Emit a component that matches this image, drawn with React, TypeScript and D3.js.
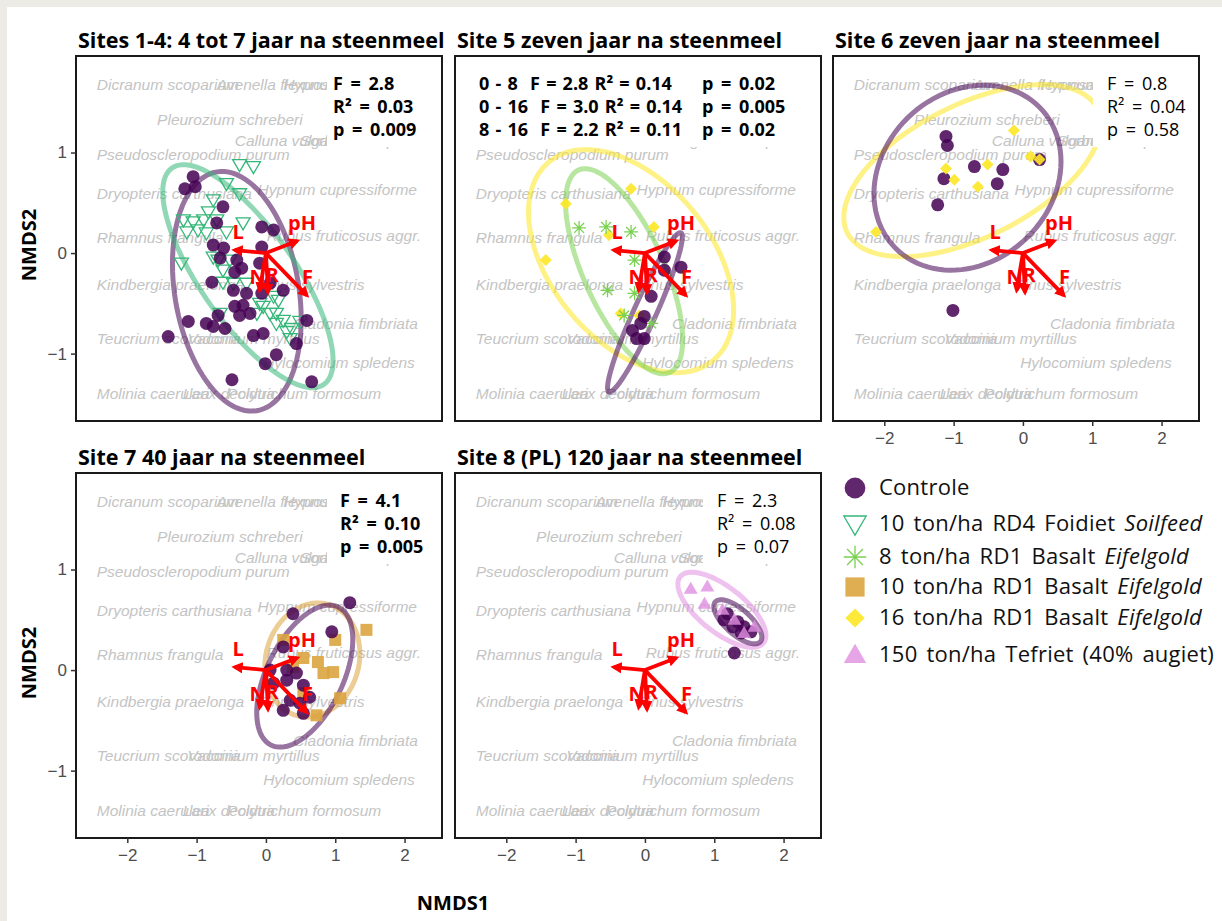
import React, { useEffect, useRef } from 'react';
import * as d3 from 'd3';

// NMDS axes (shared by all panels)
const xDomain = [-2.74, 2.54];
const yDomain = [-1.67, 1.96];
const xTicks = [-2, -1, 0, 1, 2];
const yTicks = [-1, 0, 1];

// species scores (label left edge / vertical centre)
const speciesNames = ['Dicranum scoparium', 'Avenella flexuosa', 'Hypnum jutlandicum', 'Pleurozium schreberi',
  'Calluna vulgaris', 'Sorbus aucuparia', 'Pseudoscleropodium purum', 'Dryopteris carthusiana',
  'Hypnum cupressiforme', 'Rhamnus frangula', 'Rubus fruticosus aggr.', 'Kindbergia praelonga',
  'Pinus sylvestris', 'Cladonia fimbriata', 'Teucrium scorodonia', 'Vaccinium myrtillus',
  'Hylocomium spledens', 'Molinia caerulea', 'Larix decidua', 'Polytrichum formosum'];
const speciesX = [-2.44, -0.71, 0.25, -1.57, -0.45, 0.49, -2.44, -2.44, -0.12, -2.44, 0.01, -2.44, -0.12, 0.39, -2.44, -1.13, -0.04, -2.44, -1.20, -0.56];
const speciesY = [1.68, 1.68, 1.68, 1.33, 1.12, 1.12, 0.98, 0.59, 0.63, 0.15, 0.17, -0.31, -0.31, -0.70, -0.85, -0.85, -1.09, -1.40, -1.40, -1.40];

// environmental vectors (Ellenberg)
const vectorNames = ['L', 'pH', 'F', 'N', 'R'];
const vectorX = [-0.45, 0.45, 0.59, -0.09, 0.03];
const vectorY = [0.03, 0.12, -0.42, -0.37, -0.39];
const vectorLabelX = [-0.40, 0.52, 0.60, -0.12, 0.09];
const vectorLabelY = [0.21, 0.30, -0.24, -0.24, -0.22];

// treatments
const groupKeys = ['controle', 'foidiet', 'basalt8', 'basalt10', 'basalt16', 'tefriet'];
const groupColors = ['#440154', '#35b779', '#7ad151', '#dca43f', '#fde725', '#e08ee0'];
const groupShapes = ['circle', 'triangleDown', 'asterisk', 'square', 'diamond', 'triangleUp'];
const legendLabels = ['Controle', '10 ton/ha RD4 Foidiet ', '8 ton/ha RD1 Basalt ', '10 ton/ha RD1 Basalt ', '16 ton/ha RD1 Basalt ', '150 ton/ha Tefriet (40% augiet)'];
const legendItalic = ['', 'Soilfeed', 'Eifelgold', 'Eifelgold', 'Eifelgold', ''];

// panel texts
const panelTitles = ['Sites 1-4: 4 tot 7 jaar na steenmeel', 'Site 5 zeven jaar na steenmeel', 'Site 6 zeven jaar na steenmeel',
  'Site 7 40 jaar na steenmeel', 'Site 8 (PL) 120 jaar na steenmeel'];
const statsSite14 = ['F = 2.8', 'R² = 0.03', 'p = 0.009'];
const statsSite5 = [['0 - 8  F = 2.8 R² = 0.14', 'p = 0.02'], ['0 - 16  F = 3.0 R² = 0.14', 'p = 0.005'], ['8 - 16  F = 2.2 R² = 0.11', 'p = 0.02']];
const statsSite6 = ['F = 0.8', 'R² = 0.04', 'p = 0.58'];
const statsSite7 = ['F = 4.1', 'R² = 0.10', 'p = 0.005'];
const statsSite8 = ['F = 2.3', 'R² = 0.08', 'p = 0.07'];

// site scores
const site14Controle = [[-1.05, 0.76], [-1.17, 0.64], [-1.02, 0.66], [-0.62, 0.46], [-0.71, 0.30], [-0.06, 0.26], [-0.76, 0.08],
  [-0.61, 0.05], [-0.42, -0.07], [-0.35, -0.15], [-0.45, -0.19], [-0.09, -0.10], [-0.47, -0.37], [-0.28, -0.40], [-0.06, -0.40],
  [0.25, -0.37], [-0.45, -0.53], [-0.33, -0.52], [-0.23, -0.60], [-0.69, -0.62], [-1.12, -0.68], [-0.86, -0.70], [-0.76, -0.73],
  [-1.41, -0.83], [-0.18, -0.82], [-0.04, -0.80], [0.44, -0.90], [0.15, -1.01], [-0.01, -1.10], [0.66, -1.28], [-0.49, -1.26],
  [0.06, -0.30], [-0.66, -0.05], [0.59, -0.67], [0.11, 0.23], [-0.06, 0.06], [-0.78, -0.29], [-0.59, -0.75], [-0.38, -0.62]];
const site14Foidiet = [[-0.38, 0.88], [-0.18, 0.86], [-0.57, 0.69], [-0.38, 0.59], [-0.76, 0.53], [-0.83, 0.41], [-1.19, 0.33],
  [-1.05, 0.31], [-0.90, 0.33], [-0.71, 0.33], [-1.14, 0.21], [-0.98, 0.23], [-0.86, 0.20], [-0.57, 0.21], [-0.33, 0.30],
  [-0.76, -0.04], [-0.69, -0.07], [-0.52, -0.07], [-1.22, -0.10], [-0.62, -0.17], [-0.62, -0.29], [-0.47, -0.30], [-0.28, -0.30],
  [0.11, -0.43], [0.18, -0.47], [-0.04, -0.53], [0.06, -0.60], [0.15, -0.60], [0.25, -0.67], [0.37, -0.75], [0.30, -0.78],
  [0.15, -0.70], [0.35, -0.85], [0.49, -0.68], [-0.66, -0.60], [-0.13, -0.60], [-0.09, -0.50]];
const site5Controle = [[0.28, -0.04], [0.28, -0.17], [0.52, -0.14], [0.09, -0.43], [-0.01, -0.63], [-0.06, -0.70], [-0.18, -0.77], [-0.01, -0.85], [-0.12, -0.85]];
const site5Basalt8 = [[-0.95, 0.25], [-0.56, 0.26], [-0.20, 0.21], [-0.15, -0.07], [-0.54, -0.37], [-0.15, -0.40], [-0.30, -0.62], [0.09, -0.70]];
const site5Basalt16 = [[-0.20, 0.64], [-1.14, 0.49], [-1.43, -0.07], [0.13, 0.26], [-0.52, 0.18], [-0.08, -0.62], [-0.35, -0.60]];
const site6Controle = [[-1.11, 1.16], [-1.09, 1.07], [-0.70, 0.86], [-0.29, 0.83], [-0.37, 0.69], [-1.14, 0.74], [-1.23, 0.48], [0.24, 0.93], [-1.01, -0.57]];
const site6Basalt16 = [[-0.13, 1.22], [-0.51, 0.88], [-0.99, 0.73], [-0.65, 0.66], [-1.11, 0.84], [0.11, 0.96], [0.24, 0.93], [-2.12, 0.21]];
const site7Controle = [[1.21, 0.67], [0.39, 0.56], [0.95, 0.38], [0.25, 0.23], [0.30, 0.00], [0.44, -0.03], [0.54, -0.15], [0.30, -0.10],
  [0.35, -0.30], [0.25, -0.40], [0.54, -0.43], [0.49, -0.33], [0.06, 0.00], [0.11, -0.13], [0.63, -0.27]];
const site7Basalt10 = [[1.45, 0.40], [1.00, 0.30], [0.54, 0.12], [0.75, 0.08], [0.97, -0.02], [1.07, -0.28], [0.39, 0.03], [0.73, -0.45],
  [0.54, -0.23], [0.25, 0.30], [0.83, -0.03]];
const site8Controle = [[1.29, 0.17], [1.19, 0.56], [1.34, 0.48], [1.43, 0.43], [1.27, 0.43], [1.39, 0.37], [1.53, 0.38], [1.14, 0.50]];
const site8Tefriet = [[0.66, 0.81], [0.90, 0.83], [0.86, 0.66], [1.29, 0.50], [1.58, 0.43], [1.43, 0.37], [1.12, 0.60]];

// 95% ellipses: centre and covariance (NMDS units)
const site14Ellipses = [
  { group: 'controle', cx: -0.42, cy: -0.38, sxx: 0.862, syy: 1.42, sxy: -0.254 },
  { group: 'foidiet', cx: -0.26, cy: -0.23, sxx: 1.51, syy: 1.23, sxy: -1.03 }];
const site5Ellipses = [
  { group: 'basalt16', cx: -0.20, cy: -0.08, sxx: 2.19, syy: 1.23, sxy: -0.72 },
  { group: 'basalt8', cx: -0.30, cy: -0.18, sxx: 0.713, syy: 1.04, sxy: -0.574 },
  { group: 'controle', cx: 0.0, cy: -0.59, sxx: 0.291, syy: 0.628, sxy: 0.404 }];
const site6Ellipses = [
  { group: 'basalt16', cx: -0.73, cy: 0.82, sxx: 3.44, syy: 0.732, sxy: 0.861 },
  { group: 'controle', cx: -0.80, cy: 0.75, sxx: 1.82, syy: 0.847, sxy: 0.215 }];
const site7Ellipses = [
  { group: 'basalt10', cx: 0.67, cy: 0.10, sxx: 0.47, syy: 0.322, sxy: 0.043 },
  { group: 'controle', cx: 0.56, cy: -0.06, sxx: 0.48, syy: 0.499, sxy: 0.251 }];
const site8Ellipses = [
  { group: 'tefriet', cx: 1.11, cy: 0.60, sxx: 0.403, syy: 0.139, sxy: -0.162 },
  { group: 'controle', cx: 1.34, cy: 0.48, sxx: 0.12, syy: 0.048, sxy: -0.053 }];

const panels = [
  { title: panelTitles[0], col: 0, row: 0, points: { foidiet: site14Foidiet, controle: site14Controle }, ellipses: site14Ellipses, stats: statsSite14, bold: true, statsX: 257, boxX: 251 },
  { title: panelTitles[1], col: 1, row: 0, points: { basalt16: site5Basalt16, basalt8: site5Basalt8, controle: site5Controle }, ellipses: site5Ellipses, stats: null, bold: true, statsX: 24, boxX: 0 },
  { title: panelTitles[2], col: 2, row: 0, points: { controle: site6Controle, basalt16: site6Basalt16 }, ellipses: site6Ellipses, stats: statsSite6, bold: false, statsX: 274, boxX: 260 },
  { title: panelTitles[3], col: 0, row: 1, points: { basalt10: site7Basalt10, controle: site7Controle }, ellipses: site7Ellipses, stats: statsSite7, bold: true, statsX: 264, boxX: 251 },
  { title: panelTitles[4], col: 1, row: 1, points: { controle: site8Controle, tefriet: site8Tefriet }, ellipses: site8Ellipses, stats: statsSite8, bold: false, statsX: 262, boxX: 248 },
];

const W = 366, H = 365;
const colLeft = [76, 455, 833];
const rowTop = [56, 473];
const sans = '"Open Sans", "Noto Sans", sans-serif';
const arial = '"Liberation Sans", Arial, sans-serif';

function drawMarker(g, shape, cx, cy, color, scale = 1) {
  const s = scale;
  if (shape === 'circle') {
    g.append('circle').attr('cx', cx).attr('cy', cy).attr('r', 6.5 * s).attr('fill', color).attr('fill-opacity', 0.85);
  } else if (shape === 'triangleDown') {
    g.append('path').attr('d', `M${cx - 7 * s},${cy - 5 * s}L${cx + 7 * s},${cy - 5 * s}L${cx},${cy + 7 * s}Z`)
      .attr('fill', 'none').attr('stroke', color).attr('stroke-width', 1.3);
  } else if (shape === 'asterisk') {
    const r = 7 * s;
    const d = r * Math.SQRT1_2;
    g.append('path').attr('d', `M${cx - r},${cy}L${cx + r},${cy}M${cx},${cy - r}L${cx},${cy + r}M${cx - d},${cy - d}L${cx + d},${cy + d}M${cx - d},${cy + d}L${cx + d},${cy - d}`)
      .attr('stroke', color).attr('stroke-width', 1.3).attr('fill', 'none');
  } else if (shape === 'square') {
    g.append('rect').attr('x', cx - 6 * s).attr('y', cy - 6 * s).attr('width', 12 * s).attr('height', 12 * s)
      .attr('fill', color).attr('fill-opacity', 0.9);
  } else if (shape === 'diamond') {
    g.append('path').attr('d', `M${cx},${cy - 6 * s}L${cx + 6 * s},${cy}L${cx},${cy + 6 * s}L${cx - 6 * s},${cy}Z`)
      .attr('fill', color).attr('fill-opacity', 0.9);
  } else if (shape === 'triangleUp') {
    g.append('path').attr('d', `M${cx - 7 * s},${cy + 5 * s}L${cx + 7 * s},${cy + 5 * s}L${cx},${cy - 7 * s}Z`)
      .attr('fill', color).attr('fill-opacity', 0.8);
  }
}

function ellipsePoints(e) {
  const l11 = Math.sqrt(e.sxx);
  const l21 = e.sxy / l11;
  const l22 = Math.sqrt(Math.max(e.syy - l21 * l21, 1e-6));
  return d3.range(0, 101).map(i => {
    const t = (i / 100) * 2 * Math.PI;
    const u = Math.cos(t), v = Math.sin(t);
    return [e.cx + l11 * u, e.cy + l21 * u + l22 * v];
  });
}

export default function App() {
  const ref = useRef(null);

  useEffect(() => {
    const svg = d3.select(ref.current);
    svg.selectAll('*').remove();

    svg.append('rect').attr('width', 1222).attr('height', 921).attr('fill', '#ecebe5');
    svg.append('rect').attr('x', 7).attr('y', 7).attr('width', 1215).attr('height', 914).attr('fill', '#ffffff');

    const defs = svg.append('defs');
    defs.append('marker').attr('id', 'arrowhead').attr('viewBox', '0 0 10 10')
      .attr('refX', 7).attr('refY', 5).attr('markerWidth', 3).attr('markerHeight', 3)
      .attr('orient', 'auto')
      .append('path').attr('d', 'M0,0L10,5L0,10Z').attr('fill', '#ff0000');

    const x = d3.scaleLinear().domain(xDomain).range([0, W]);
    const y = d3.scaleLinear().domain(yDomain).range([H, 0]);
    const line = d3.line().x(d => x(d[0])).y(d => y(d[1])).curve(d3.curveLinearClosed);

    panels.forEach((p, pi) => {
      const left = colLeft[p.col], top = rowTop[p.row];
      const g = svg.append('g').attr('transform', `translate(${left},${top})`);

      defs.append('clipPath').attr('id', 'clip' + pi)
        .append('rect').attr('width', W).attr('height', H);
      const plot = g.append('g').attr('clip-path', `url(#clip${pi})`);

      // species labels
      plot.append('g').selectAll('text').data(speciesNames).enter().append('text')
        .attr('x', (d, i) => x(speciesX[i]))
        .attr('y', (d, i) => y(speciesY[i]))
        .attr('dy', '0.35em')
        .attr('font-family', arial).attr('font-style', 'italic').attr('font-size', 15.5)
        .attr('fill', '#c4c4c4')
        .text(d => d);

      // ellipses
      p.ellipses.forEach(e => {
        const gi = groupKeys.indexOf(e.group);
        plot.append('path').attr('d', line(ellipsePoints(e)))
          .attr('fill', 'none').attr('stroke', groupColors[gi])
          .attr('stroke-width', 5).attr('stroke-opacity', 0.55);
      });

      // points
      Object.keys(p.points).forEach(key => {
        const gi = groupKeys.indexOf(key);
        p.points[key].forEach(pt => drawMarker(plot, groupShapes[gi], x(pt[0]), y(pt[1]), groupColors[gi]));
      });

      // white label box
      plot.append('rect').attr('x', p.boxX).attr('y', 0).attr('width', W - p.boxX).attr('height', 91).attr('fill', '#ffffff');

      // vectors
      vectorNames.forEach((name, i) => {
        plot.append('line')
          .attr('x1', x(0)).attr('y1', y(0))
          .attr('x2', x(vectorX[i])).attr('y2', y(vectorY[i]))
          .attr('stroke', '#ff0000').attr('stroke-width', 3.8)
          .attr('marker-end', 'url(#arrowhead)');
      });
      vectorNames.forEach((name, i) => {
        plot.append('text')
          .attr('x', x(vectorLabelX[i])).attr('y', y(vectorLabelY[i]))
          .attr('dy', '0.35em').attr('text-anchor', 'middle')
          .attr('font-family', sans).attr('font-weight', 'bold').attr('font-size', 20)
          .attr('fill', '#ff0000').text(name);
      });

      // stats
      const statText = (sel, tx, ty, s, bold, ws) => sel.append('text').attr('x', tx).attr('y', ty)
        .attr('font-family', sans).attr('font-size', 18).attr('word-spacing', ws)
        .attr('font-weight', bold ? 'bold' : 'normal')
        .style('white-space', 'pre')
        .attr('fill', '#000').text(s);
      if (p.stats) {
        p.stats.forEach((s, i) => statText(g, p.statsX, 34 + i * 23, s, p.bold, 3));
      } else {
        statsSite5.forEach((s, i) => {
          statText(g, p.statsX, 34 + i * 23, s[0], true, 1.5);
          statText(g, 247, 34 + i * 23, s[1], true, 3);
        });
      }

      // frame
      g.append('rect').attr('width', W).attr('height', H)
        .attr('fill', 'none').attr('stroke', '#1a1a1a').attr('stroke-width', 2);

      // title
      g.append('text').attr('x', 2).attr('y', -8)
        .attr('font-family', sans).attr('font-weight', 'bold').attr('font-size', 21.5)
        .attr('fill', '#000').text(p.title);

      // axes
      if (p.col === 0) {
        const ax = g.append('g').call(d3.axisLeft(y).tickValues(yTicks).tickSize(5).tickPadding(4).tickFormat(d3.format('d')));
        ax.select('.domain').remove();
        ax.selectAll('line').attr('stroke', '#333').attr('stroke-width', 1.5);
        ax.selectAll('text').attr('font-family', arial).attr('font-size', 17).attr('fill', '#4d4d4d');
      }
      if (p.row === 1 || p.col === 2) {
        const ax = g.append('g').attr('transform', `translate(0,${H})`)
          .call(d3.axisBottom(x).tickValues(xTicks).tickSize(5).tickPadding(6).tickFormat(d3.format('d')));
        ax.select('.domain').remove();
        ax.selectAll('line').attr('stroke', '#333').attr('stroke-width', 1.5);
        ax.selectAll('text').attr('font-family', arial).attr('font-size', 17).attr('fill', '#4d4d4d');
      }
    });

    // axis titles
    [245, 663].forEach(cy => {
      svg.append('text').attr('transform', `translate(36,${cy}) rotate(-90)`)
        .attr('text-anchor', 'middle').attr('font-family', sans).attr('font-weight', 'bold')
        .attr('font-size', 20).attr('fill', '#000').text('NMDS2');
    });
    svg.append('text').attr('x', 453).attr('y', 910).attr('text-anchor', 'middle')
      .attr('font-family', sans).attr('font-weight', 'bold').attr('font-size', 20)
      .attr('fill', '#000').text('NMDS1');

    // legend
    const legendY = [488, 524, 557, 587, 618, 655];
    const lg = svg.append('g');
    legendLabels.forEach((label, i) => {
      drawMarker(lg, groupShapes[i], 855, legendY[i], groupColors[i], 1.6);
      const t = lg.append('text').attr('x', 879).attr('y', legendY[i] + 7)
        .attr('font-family', sans).attr('font-size', 22).attr('word-spacing', 3).attr('letter-spacing', 0.25)
        .style('white-space', 'pre')
        .attr('fill', '#111');
      t.append('tspan').text(label);
      if (legendItalic[i]) t.append('tspan').attr('font-style', 'italic').text(legendItalic[i]);
    });
  }, []);

  return (
    <svg ref={ref} width={1222} height={921}
      style={{ position: 'absolute', left: 0, top: 0, display: 'block' }} />
  );
}
